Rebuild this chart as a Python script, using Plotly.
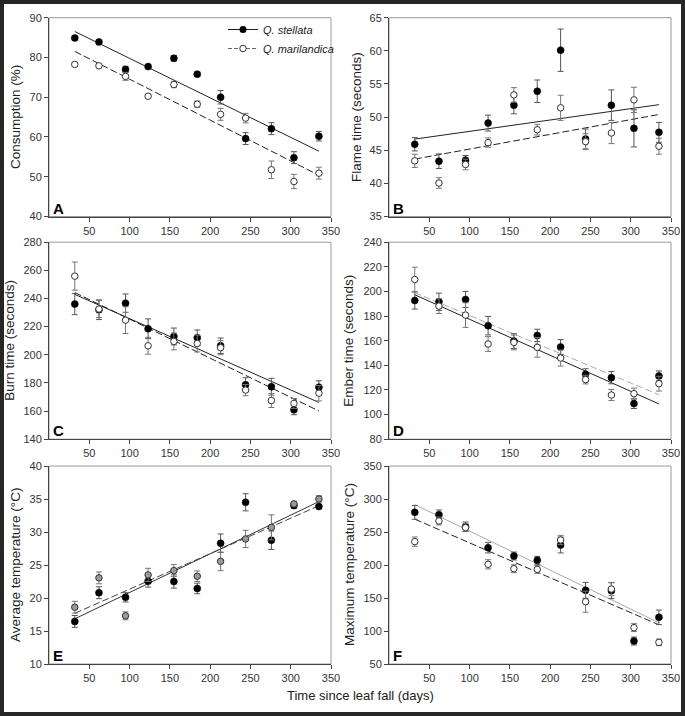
import numpy as np
import plotly.graph_objects as go

# ---------------- data ----------------
days = [32, 62, 95, 123, 155, 184, 213, 244, 276, 304, 335]

cons_stellata = [84.9, 83.9, 77.0, 77.7, 79.8, 75.8, 70.0, 59.6, 62.1, 54.8, 60.2]
cons_stellata_se = [0.5, 0.5, 0.8, 0.5, 0.7, 0.5, 1.7, 1.5, 1.5, 1.5, 1.2]
cons_marilandica = [78.25, 77.9, 75.25, 70.25, 73.2, 68.25, 65.7, 64.75, 51.75, 48.8, 50.9]
cons_marilandica_se = [0.5, 0.5, 1.0, 0.5, 0.8, 0.8, 1.5, 1.2, 2.2, 1.8, 1.5]

flame_stellata = [45.9, 43.35, 43.5, 49.1, 51.8, 53.9, 60.1, 46.7, 51.8, 48.3, 47.7]
flame_stellata_se = [1.0, 1.1, 0.7, 1.2, 1.3, 1.7, 3.2, 1.5, 2.3, 2.8, 1.5]
flame_marilandica = [43.4, 40.05, 42.85, 46.15, 53.35, 48.1, 51.4, 46.3, 47.6, 52.6, 45.6]
flame_marilandica_se = [1.0, 0.8, 0.8, 0.7, 1.1, 0.8, 1.9, 1.2, 1.6, 1.9, 1.2]

burn_stellata = [236.0, 232.0, 236.7, 218.5, 213.0, 212.1, 206.4, 178.7, 177.3, 160.9, 177.0]
burn_stellata_se = [7.5, 7.0, 6.5, 7.0, 6.0, 5.5, 5.5, 5.0, 6.0, 3.5, 4.5]
burn_marilandica = [255.9, 232.5, 224.6, 206.4, 209.5, 208.0, 205.0, 174.9, 167.5, 165.4, 172.7]
burn_marilandica_se = [10.0, 6.0, 9.5, 6.0, 6.0, 6.0, 5.0, 4.0, 5.0, 3.5, 5.5]

ember_stellata = [192.7, 191.6, 193.5, 172.2, 159.7, 164.3, 154.9, 132.7, 130.0, 108.9, 131.4]
ember_stellata_se = [7.0, 7.0, 6.5, 7.5, 6.0, 5.0, 6.0, 4.5, 5.0, 4.0, 4.0]
ember_marilandica = [209.7, 188.1, 180.8, 157.3, 158.6, 154.6, 145.9, 128.4, 115.9, 117.0, 125.1]
ember_marilandica_se = [10.0, 6.0, 10.0, 6.0, 6.0, 8.0, 6.5, 3.5, 4.5, 4.5, 6.0]

avgT_stellata = [16.45, 20.8, 20.1, 22.55, 22.5, 21.45, 28.3, 34.5, 28.75, 34.0, 33.85]
avgT_stellata_se = [0.9, 0.9, 0.7, 0.9, 1.0, 0.8, 1.4, 1.3, 1.4, 0.4, 0.3]
avgT_marilandica = [18.6, 23.05, 17.3, 23.5, 24.15, 23.3, 25.55, 28.95, 30.7, 34.25, 35.0]
avgT_marilandica_se = [0.9, 0.9, 0.6, 1.0, 0.9, 0.8, 1.4, 1.3, 1.9, 0.4, 0.5]

maxT_stellata = [279.8, 276.3, 258.1, 226.3, 213.6, 207.1, 230.3, 161.6, 161.1, 84.8, 120.7]
maxT_stellata_se = [10.5, 7.0, 7.0, 8.0, 6.0, 6.0, 12.0, 12.0, 12.0, 6.0, 11.0]
maxT_marilandica = [235.4, 266.7, 256.6, 201.0, 194.4, 193.4, 237.9, 144.4, 163.6, 105.1, 82.8]
maxT_marilandica_se = [7.0, 6.0, 6.0, 7.0, 6.0, 6.0, 7.0, 16.0, 10.0, 6.0, 5.0]

x_ticks = [50, 100, 150, 200, 250, 300, 350]

# ---------------- layout geometry (pixels) ----------------
W, H = 685, 716
FONT = "Liberation Sans, Arial, sans-serif"
cols = [(49, 331), (389, 671)]
rows = [(17.7, 216.5), (242.2, 439.2), (466, 664)]

def fx(p):
    return p / W

def fy(p):
    return 1 - p / H

DARK = "#222222"
LIGHT = "#aaaaaa"

panels = [
    dict(letter="A", col=0, row=0, yr=[40, 90], dt=10, title="Consumption (%)", tx=15,
         s=(cons_stellata, cons_stellata_se), m=(cons_marilandica, cons_marilandica_se),
         sl=("solid", DARK), ml=("7px,3px", DARK), mfill="white"),
    dict(letter="B", col=1, row=0, yr=[35, 65], dt=5, title="Flame time (seconds)", tx=356,
         s=(flame_stellata, flame_stellata_se), m=(flame_marilandica, flame_marilandica_se),
         sl=("solid", DARK), ml=("7px,3px", DARK), mfill="white"),
    dict(letter="C", col=0, row=1, yr=[140, 280], dt=20, title="Burn time (seconds)", tx=10,
         s=(burn_stellata, burn_stellata_se), m=(burn_marilandica, burn_marilandica_se),
         sl=("solid", DARK), ml=("7px,3px", DARK), mfill="white"),
    dict(letter="D", col=1, row=1, yr=[80, 240], dt=20, title="Ember time (seconds)", tx=349,
         s=(ember_stellata, ember_stellata_se), m=(ember_marilandica, ember_marilandica_se),
         sl=("7px,3px", LIGHT), ml=("solid", DARK), mfill="white"),
    dict(letter="E", col=0, row=2, yr=[10, 40], dt=5, title="Average temperature (°C)", tx=15,
         s=(avgT_stellata, avgT_stellata_se), m=(avgT_marilandica, avgT_marilandica_se),
         sl=("solid", "#333333"), ml=("7px,3px", "#444444"), mfill="#9a9a9a"),
    dict(letter="F", col=1, row=2, yr=[50, 350], dt=50, title="Maximum temperature (°C)", tx=349,
         s=(maxT_stellata, maxT_stellata_se), m=(maxT_marilandica, maxT_marilandica_se),
         sl=("solid", LIGHT), ml=("7px,3px", DARK), mfill="white"),
]

fig = go.Figure()
annotations = []
shapes = [dict(type="rect", xref="paper", yref="paper", x0=fx(4), x1=fx(681), y0=fy(712), y1=fy(4),
               fillcolor="white", line=dict(width=0), layer="below")]
x_arr = np.array(days, dtype=float)
x_ends = [days[0], days[-1]]

for i, p in enumerate(panels, start=1):
    xa = "x" if i == 1 else f"x{i}"
    ya = "y" if i == 1 else f"y{i}"
    # regression lines
    for (vals, _), (dash, col) in ((p["s"], p["sl"]), (p["m"], p["ml"])):
        coef = np.polyfit(x_arr, np.array(vals), 1)
        fig.add_trace(go.Scatter(x=x_ends, y=list(np.polyval(coef, x_ends)), mode="lines",
                                 line=dict(color=col, width=1, dash=dash),
                                 xaxis=xa, yaxis=ya, showlegend=False, hoverinfo="skip"))
    # stellata points
    fig.add_trace(go.Scatter(x=days, y=p["s"][0], mode="markers",
                             marker=dict(color="black", size=7, line=dict(color="black", width=0.5)),
                             error_y=dict(type="data", array=p["s"][1], color="#555555", thickness=1, width=3),
                             xaxis=xa, yaxis=ya, showlegend=False))
    # marilandica points
    fig.add_trace(go.Scatter(x=days, y=p["m"][0], mode="markers",
                             marker=dict(color=p["mfill"], size=6.5, line=dict(color="#333333", width=1)),
                             error_y=dict(type="data", array=p["m"][1], color="#777777", thickness=1, width=3),
                             xaxis=xa, yaxis=ya, showlegend=False))

    x0, x1 = cols[p["col"]]
    y0, y1 = rows[p["row"]]
    common = dict(showgrid=False, zeroline=False, showline=True, linecolor="#444444", linewidth=1,
                  ticks="outside", ticklen=4, tickcolor="#444444", tickwidth=1,
                  tickfont=dict(family=FONT, size=11, color="#333333"), automargin=False)
    fig.layout[f"xaxis{'' if i == 1 else i}"] = dict(
        domain=[fx(x0), fx(x1)], range=[0, 350], tickvals=x_ticks, anchor=ya, **common)
    fig.layout[f"yaxis{'' if i == 1 else i}"] = dict(
        domain=[fy(y1), fy(y0)], range=p["yr"], dtick=p["dt"], tick0=p["yr"][0], anchor=xa, **common)

    shapes.append(dict(type="rect", xref=f"{xa} domain", yref=f"{ya} domain", x0=0, x1=1, y0=0, y1=1,
                       line=dict(color="#9a9a9a", width=1), layer="below"))
    annotations.append(dict(text=f"<b>{p['letter']}</b>", xref=f"{xa} domain", yref=f"{ya} domain",
                            x=0, y=0, xanchor="left", yanchor="bottom", xshift=2, yshift=-2,
                            showarrow=False, font=dict(family=FONT, size=15, color="black")))
    annotations.append(dict(text=p["title"], xref="paper", yref="paper", x=fx(p["tx"]),
                            y=fy((y0 + y1) / 2), xanchor="center", yanchor="middle", textangle=-90,
                            showarrow=False, font=dict(family=FONT, size=13.5, color="#222222")))

# legend entries (panel A)
fig.add_trace(go.Scatter(x=[None], y=[None], mode="lines+markers", name="<i>Q. stellata</i>",
                         marker=dict(color="black", size=7), line=dict(color=DARK, width=1),
                         xaxis="x", yaxis="y"))
fig.add_trace(go.Scatter(x=[None], y=[None], mode="lines+markers", name="<i>Q. marilandica</i>",
                         marker=dict(color="white", size=6.5, line=dict(color="#333333", width=1)),
                         line=dict(color="#666666", width=1, dash="4px,2px"), xaxis="x", yaxis="y"))

annotations.append(dict(text="Time since leaf fall (days)", xref="paper", yref="paper",
                        x=fx(360), y=fy(695), xanchor="center", yanchor="middle", showarrow=False,
                        font=dict(family=FONT, size=13, color="#222222")))

fig.update_layout(
    width=W, height=H, margin=dict(l=0, r=0, t=0, b=0),
    paper_bgcolor="#262626", plot_bgcolor="rgba(0,0,0,0)",
    font=dict(family=FONT, color="#222222"),
    showlegend=True,
    legend=dict(x=fx(223), y=fy(15), xanchor="left", yanchor="top", bgcolor="rgba(0,0,0,0)",
                font=dict(family=FONT, size=11, color="#222222"), itemwidth=30, tracegroupgap=0),
    annotations=annotations, shapes=shapes,
)

fig.write_html("out.html", config={"displayModeBar": False},
               post_script="document.body.style.margin='0';")
